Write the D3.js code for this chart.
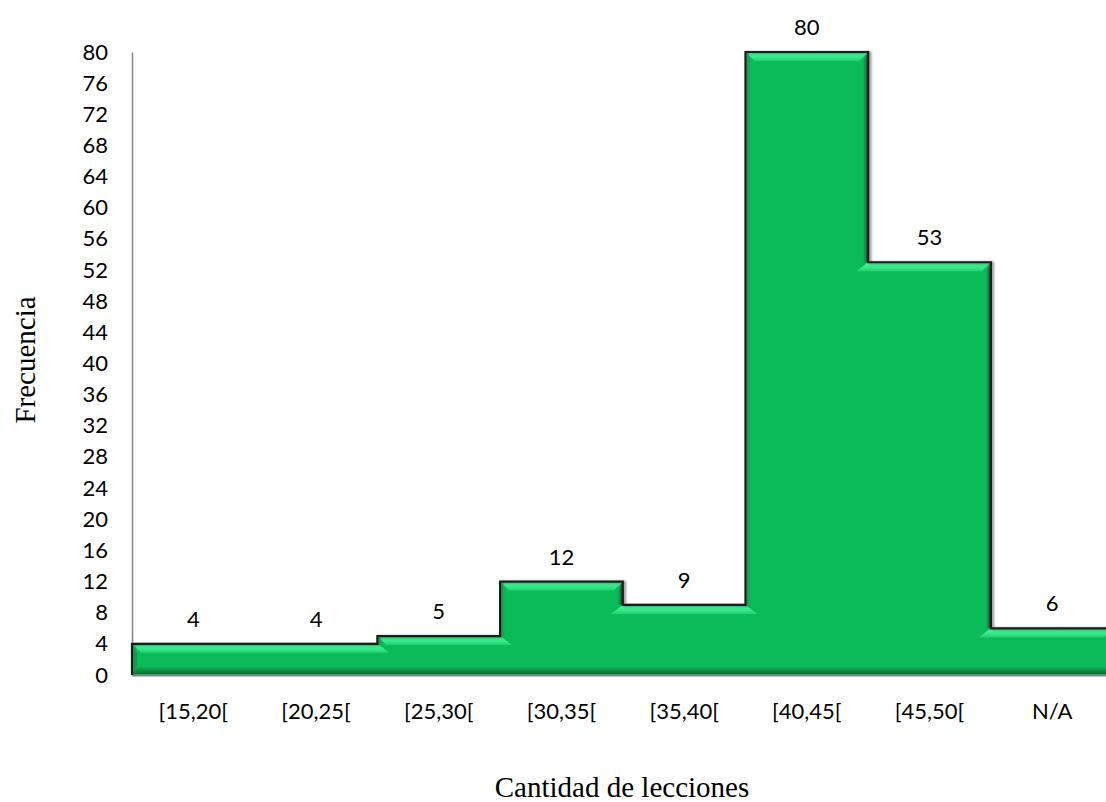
<!DOCTYPE html>
<html>
<head>
<meta charset="utf-8">
<script src="https://cdn.jsdelivr.net/npm/d3@7/dist/d3.min.js"></script>
<style>
  html, body { margin: 0; padding: 0; background: #fff; }
  svg { display: block; }
  .tick text { font-family: Lato, "Open Sans", sans-serif; font-size: 22px; fill: #000; }
</style>
</head>
<body>
<svg id="chart" width="1106" height="802"></svg>
<script>
// Histogram: number of lessons per range
const categories = ["[15,20[", "[20,25[", "[25,30[", "[30,35[", "[35,40[", "[40,45[", "[45,50[", "N/A"];
const frequencies = [4, 4, 5, 12, 9, 80, 53, 6];
const yTicks = d3.range(0, 81, 4);
const yTitle = "Frecuencia";
const xTitle = "Cantidad de lecciones";

const svg = d3.select("#chart");
const plotLeft = 132, bandW = 122.7, plotTop = 52, plotBase = 675;

const x = d3.scaleBand().domain(categories).range([plotLeft, plotLeft + categories.length * bandW]).padding(0);
const y = d3.scaleLinear().domain([0, 80]).range([plotBase, plotTop]);

// Gradients for the bevelled faces
const defs = svg.append("defs");
function grad(id, x2, y2, stops) {
  const g = defs.append("linearGradient").attr("id", id)
    .attr("x1", 0).attr("y1", 0).attr("x2", x2).attr("y2", y2);
  stops.forEach(([o, c]) => g.append("stop").attr("offset", o).attr("stop-color", c));
}
grad("bevTop", 0, 1, [[0, "#5cf7a6"], [0.55, "#3ae68b"], [1, "#22d271"]]);
grad("bevRight", 1, 0, [[0, "#0bb757"], [0.5, "#088c42"], [1, "#033d1c"]]);
grad("bevBottom", 0, 1, [[0, "#0bb456"], [1, "#066e33"]]);
grad("bevLeft", 1, 0, [[0, "#0bb858"], [1, "#0a9e4b"]]);

const shadow = defs.append("filter").attr("id", "edgeShadow")
  .attr("x", "-5%").attr("y", "-5%").attr("width", "110%").attr("height", "110%");
shadow.append("feDropShadow").attr("dx", 1.8).attr("dy", 0.6).attr("stdDeviation", 0.9)
  .attr("flood-color", "#5e5e5e").attr("flood-opacity", 0.85);

// Axes
const yAxis = svg.append("g").attr("transform", `translate(${plotLeft},0)`)
  .call(d3.axisLeft(y).tickValues(yTicks).tickSize(0).tickPadding(24));
yAxis.select(".domain").attr("stroke", "#868686").attr("stroke-width", 1.5);

const xAxis = svg.append("g").attr("transform", `translate(0,${plotBase})`)
  .call(d3.axisBottom(x).tickSize(0).tickPadding(28));
xAxis.select(".domain").attr("stroke", "#868686").attr("stroke-width", 2);

const b = 9;          // bevel depth
const flare = 12;     // how far a lower bar's top bevel spills under a taller neighbour
const n = frequencies.length;
const baseY = y(0) - 1;
const bars = svg.append("g");

// Step outline of the histogram, built from the bar values
const pts = [[x(categories[0]), y(0)]];
frequencies.forEach((v, i) => {
  const x0 = x(categories[i]);
  pts.push([x0, y(v)], [x0 + x.bandwidth(), y(v)]);
});
pts.push([x(categories[n - 1]) + x.bandwidth(), y(0)]);

// Flat body of all bars as one shape (no seams between neighbours)
bars.append("path").attr("d", d3.line()(pts) + "Z").attr("fill", "#0bbb59");

// Left shading on the first bar
{
  const x0 = x(categories[0]), y0 = y(frequencies[0]);
  bars.append("polygon").attr("fill", "url(#bevLeft)")
    .attr("points", [[x0, y0], [x0 + 5, y0 + b], [x0 + 5, baseY - b], [x0, baseY]].join(" "));
}

// Dark right faces wherever the next bar is lower
frequencies.forEach((v, i) => {
  const next = i < n - 1 ? frequencies[i + 1] : 0;
  if (next >= v) return;
  const x1 = x(categories[i]) + x.bandwidth();
  const y0 = y(v), yb = i < n - 1 ? y(next) : baseY;
  bars.append("polygon").attr("fill", "url(#bevRight)")
    .attr("points", [[x1, y0], [x1, yb], [x1 - 5, yb], [x1 - 5, y0 + b]].join(" "));
});

// Continuous dark strip along the bottom
{
  const xa = x(categories[0]), xb = x(categories[n - 1]) + x.bandwidth();
  bars.append("polygon").attr("fill", "url(#bevBottom)")
    .attr("points", [[xa, baseY], [xa + 5, baseY - 7], [xb - 5, baseY - 7], [xb, baseY]].join(" "));
}

// Light top faces; chamfered inward next to lower neighbours, spilling outward under taller ones
frequencies.forEach((v, i) => {
  const x0 = x(categories[i]), x1 = x0 + x.bandwidth();
  const y0 = y(v);
  const prev = i > 0 ? frequencies[i - 1] : -1;
  const next = i < n - 1 ? frequencies[i + 1] : -1;
  const bl = prev > v ? x0 - flare : prev === v ? x0 : x0 + b;
  const br = next > v ? x1 + flare : next === v ? x1 + 0.5 : x1 - b;
  bars.append("polygon").attr("fill", "url(#bevTop)")
    .attr("points", [[x0, y0], [x1 + (next === v ? 0.5 : 0), y0], [br, y0 + b], [bl, y0 + b]].join(" "));
});

// Dark outline along the silhouette
svg.append("path").attr("d", d3.line()(pts))
  .attr("fill", "none").attr("stroke", "#1a1a1a").attr("stroke-width", 2.2)
  .attr("stroke-linejoin", "miter").attr("filter", "url(#edgeShadow)");

// Value labels
svg.append("g").selectAll("text").data(frequencies).join("text")
  .attr("x", (d, i) => x(categories[i]) + x.bandwidth() / 2)
  .attr("y", d => y(d) - 17)
  .attr("text-anchor", "middle")
  .attr("font-family", "Lato, 'Open Sans', sans-serif")
  .attr("font-size", 22)
  .text(d => d);

// Axis titles
svg.append("text")
  .attr("transform", "translate(35,360) rotate(-90)")
  .attr("text-anchor", "middle")
  .attr("font-family", "'Liberation Serif', serif")
  .attr("font-size", 29)
  .text(yTitle);

svg.append("text")
  .attr("x", 622).attr("y", 797)
  .attr("text-anchor", "middle")
  .attr("font-family", "'Liberation Serif', serif")
  .attr("font-size", 29)
  .text(xTitle);
</script>
</body>
</html>
